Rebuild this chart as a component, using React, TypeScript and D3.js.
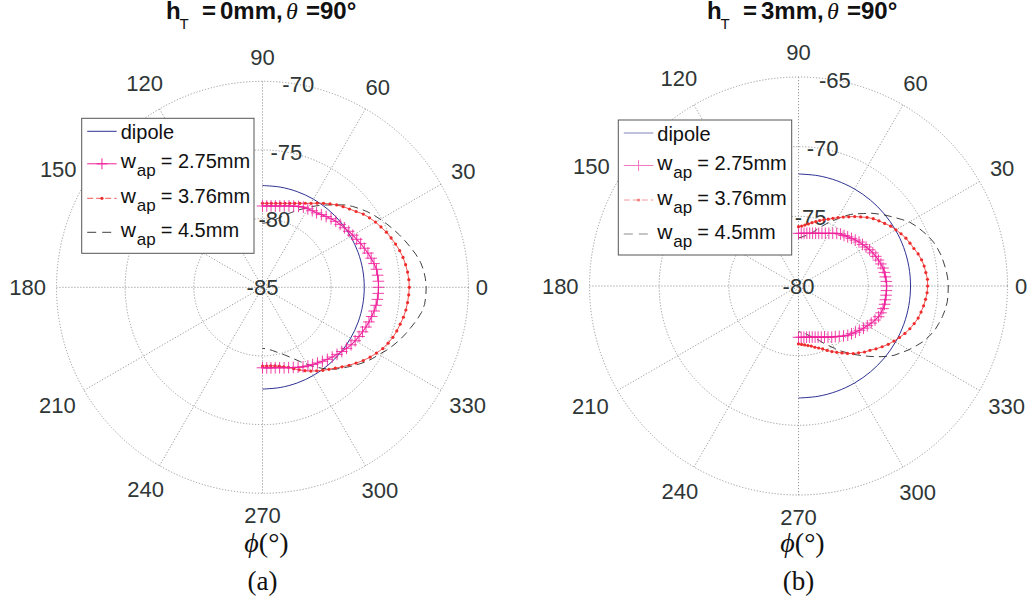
import React from 'react';
import * as d3 from 'd3';

// ---------- data ----------
const PHI = d3.range(90, -91, -3); // azimuth samples (deg), 61 points
const PHI_DIPOLE = d3.range(90, -91, -10); // 19 points
const ANGLE_TICKS = [0, 30, 60, 90, 120, 150, 180, 210, 240, 270, 300, 330];
const RING_TICKS_A = [-85, -80, -75, -70];
const RING_TICKS_B = [-80, -75, -70, -65];

const DIPOLE_A = [-77.59, -77.59, -77.59, -77.59, -77.59, -77.59, -77.59, -77.59, -77.59, -77.59,
  -77.59, -77.59, -77.59, -77.59, -77.59, -77.59, -77.59, -77.59, -77.59];
const W275_A = [
  -79.08, -79.07, -79.04, -79.01, -78.95, -78.87, -78.77, -78.67, -78.55, -78.45,
  -78.40, -78.35, -78.30, -78.19, -78.07, -77.94, -77.82, -77.72, -77.63, -77.51,
  -77.41, -77.30, -77.18, -77.06, -76.93, -76.81, -76.70, -76.60, -76.57, -76.55,
  -76.55,
  -76.56, -76.59, -76.63, -76.69, -76.77, -76.85, -76.93, -77.03, -77.11, -77.21,
  -77.31, -77.44, -77.57, -77.70, -77.82, -77.94, -78.07, -78.19, -78.30, -78.39,
  -78.50, -78.63, -78.75, -78.85, -78.93, -79.01, -79.07, -79.10, -79.12, -79.14];
const W376_A = [
  -78.88, -78.88, -78.85, -78.81, -78.75, -78.67, -78.57, -78.45, -78.31, -78.13,
  -77.94, -77.70, -77.44, -77.19, -76.93, -76.70, -76.48, -76.23, -75.93, -75.71,
  -75.50, -75.32, -75.13, -74.97, -74.81, -74.66, -74.54, -74.45, -74.38, -74.33,
  -74.31,
  -74.34, -74.38, -74.43, -74.51, -74.62, -74.72, -74.83, -74.99, -75.17, -75.42,
  -75.66, -75.93, -76.23, -76.52, -76.81, -77.08, -77.31, -77.53, -77.75, -77.96,
  -78.19, -78.42, -78.65, -78.87, -79.01, -79.13, -79.20, -79.25, -79.26, -79.27];
const W45_A = [
  -80.34, -80.30, -80.23, -80.08, -79.90, -79.68, -79.44, -79.17, -78.88, -78.59,
  -78.26, -77.94, -77.61, -77.28, -76.92, -76.52, -76.19, -75.90, -75.61, -75.34,
  -75.10, -74.84, -74.59, -74.33, -74.08, -73.82, -73.57, -73.35, -73.20, -73.12,
  -73.08,
  -73.09, -73.13, -73.28, -73.52, -73.79, -74.04, -74.30, -74.59, -74.88, -75.21,
  -75.46, -75.75, -76.07, -76.39, -76.70, -76.99, -77.32, -77.72, -78.12, -78.52,
  -78.92, -79.28, -79.58, -79.83, -80.03, -80.19, -80.34, -80.45, -80.52, -80.56];

const DIPOLE_B = [-71.96, -71.96, -71.96, -71.96, -71.96, -71.96, -71.96, -71.96, -71.96, -71.96,
  -71.96, -71.96, -71.96, -71.96, -71.96, -71.96, -71.96, -71.96, -71.96];
const W275_B = [
  -76.22, -76.21, -76.20, -76.17, -76.13, -76.08, -76.02, -75.95, -75.86, -75.76,
  -75.64, -75.49, -75.33, -75.20, -75.12, -75.01, -74.89, -74.76, -74.63, -74.52,
  -74.40, -74.27, -74.16, -74.06, -73.97, -73.88, -73.80, -73.76, -73.73, -73.69,
  -73.67,
  -73.68, -73.68, -73.69, -73.69, -73.72, -73.77, -73.84, -73.99, -74.14, -74.30,
  -74.44, -74.60, -74.74, -74.88, -75.00, -75.17, -75.35, -75.51, -75.62, -75.77,
  -75.89, -75.98, -76.07, -76.14, -76.20, -76.25, -76.28, -76.30, -76.32, -76.32];
const W376_B = [
  -75.74, -75.69, -75.60, -75.49, -75.35, -75.21, -75.06, -74.90, -74.75, -74.55,
  -74.33, -74.10, -73.86, -73.59, -73.33, -73.04, -72.78, -72.57, -72.36, -72.11,
  -71.93, -71.74, -71.56, -71.43, -71.29, -71.11, -70.97, -70.87, -70.81, -70.73,
  -70.73,
  -70.76, -70.83, -70.91, -71.01, -71.11, -71.27, -71.44, -71.64, -71.86, -72.09,
  -72.32, -72.58, -72.84, -73.10, -73.30, -73.55, -73.76, -74.02, -74.27, -74.50,
  -74.72, -74.94, -75.16, -75.32, -75.45, -75.59, -75.67, -75.75, -75.80, -75.84];
const W45_B = [
  -76.56, -76.50, -76.41, -76.32, -76.20, -76.02, -75.73, -75.44, -75.12, -74.80,
  -74.44, -74.04, -73.65, -73.33, -73.00, -72.61, -72.28, -71.93, -71.59, -71.21,
  -70.81, -70.53, -70.28, -70.02, -69.81, -69.66, -69.52, -69.44, -69.34, -69.28,
  -69.25,
  -69.25, -69.26, -69.33, -69.44, -69.58, -69.72, -69.95, -70.20, -70.53, -70.85,
  -71.21, -71.53, -71.96, -72.41, -72.86, -73.29, -73.68, -74.08, -74.44, -74.83,
  -75.19, -75.49, -75.80, -76.02, -76.20, -76.37, -76.50, -76.61, -76.68, -76.72];

const LEGEND_LABELS = ['2.75mm', '3.76mm', '4.5mm'];

// ---------- styles ----------
const SANS = "'Liberation Sans', Arial, Helvetica, sans-serif";
const SERIF = "'Liberation Serif', 'Times New Roman', serif";
const C_DIPOLE = '#2e3192';
const C_275 = '#f0219b';
const C_376 = '#ee2c2c';
const C_45 = '#2a2a2a';
const C_GRID = '#8f8f8f';
const C_TICK = '#2f3636';
// radial placement of angle labels (fraction of outer radius)
const LABEL_RF: Record<number, number> = {
  0: 1.065, 30: 1.125, 60: 1.12, 90: 1.115, 120: 1.145, 150: 1.145,
  180: 1.14, 210: 1.15, 240: 1.135, 270: 1.11, 300: 1.14, 330: 1.15,
};

const rad = (deg: number) => (deg * Math.PI) / 180;
const pt = (phi: number, r: number) => d3.pointRadial(rad(90 - phi), r);

type PanelProps = {
  cx: number; cy: number; R: number; ringTicks: number[];
  dipole: number[]; w275: number[]; w376: number[]; w45: number[];
  legend: { x: number; y: number; w: number; h: number; fade: number };
  title: string; titleX: number; caption: string;
};

function Panel(p: PanelProps) {
  const r = d3.scaleLinear().domain([p.ringTicks[0], p.ringTicks[p.ringTicks.length - 1]]).range([0, p.R]);
  const lineOf = (angles: number[], curve?: d3.CurveFactory) => {
    const l = d3.lineRadial<number>()
      .angle((_, i) => rad(90 - angles[i]))
      .radius((v) => r(v));
    if (curve) l.curve(curve);
    return l;
  };
  const spokes = [0, 30, 60, 90, 120, 150];
  const lx = p.legend.x, ly = p.legend.y;
  const lineY = [13, 45.5, 80, 114];
  const baseY = [21, 50, 84.5, 119];
  const sx1 = lx + 5.5, sx2 = lx + 35, tx = lx + 39;
  const mid = (sx1 + sx2) / 2;
  const plus = (x: number, y: number, s: number) => `M${x - s},${y}H${x + s}M${x},${y - s}V${y + s}`;
  const t0 = p.titleX;

  return (
    <g>
      <g transform={`translate(${p.cx},${p.cy})`}>
        {/* grid */}
        {p.ringTicks.slice(1).map((t) => (
          <circle key={t} r={r(t)} fill="none" stroke={C_GRID} strokeWidth={0.9} strokeDasharray="1.2,1.8" />
        ))}
        {spokes.map((a) => {
          const [x1, y1] = pt(a, p.R);
          const [x2, y2] = pt(a + 180, p.R);
          return <line key={a} x1={x1} y1={y1} x2={x2} y2={y2} stroke={C_GRID} strokeWidth={0.9} strokeDasharray="1.2,1.8" />;
        })}
        {/* angle labels */}
        {ANGLE_TICKS.map((a) => {
          const [x, y] = pt(a, p.R * LABEL_RF[a]);
          return (
            <text key={a} x={x} y={y} textAnchor="middle" dominantBaseline="central"
              fontFamily={SANS} fontSize={22} fill={C_TICK}>{a}</text>
          );
        })}
        {/* ring labels */}
        {p.ringTicks.map((t) => {
          const [x, y] = pt(80, r(t));
          return (
            <text key={t} x={x} y={y} textAnchor="middle" dominantBaseline="central"
              fontFamily={SANS} fontSize={22} fill={C_TICK}>{t}</text>
          );
        })}
        {/* series */}
        <path d={lineOf(PHI_DIPOLE, d3.curveCardinal)(p.dipole) || ''} fill="none" stroke={C_DIPOLE} strokeWidth={1} />
        <path d={lineOf(PHI)(p.w45) || ''} fill="none" stroke={C_45} strokeWidth={0.9} strokeDasharray="8,5" />
        <path d={lineOf(PHI)(p.w376) || ''} fill="none" stroke={C_376} strokeWidth={0.8} />
        {p.w376.map((v, i) => {
          const [x, y] = pt(PHI[i], r(v));
          return <circle key={i} cx={x} cy={y} r={1.6} fill={C_376} />;
        })}
        <path d={lineOf(PHI)(p.w275) || ''} fill="none" stroke={C_275} strokeWidth={1.1} />
        {p.w275.map((v, i) => {
          const [x, y] = pt(PHI[i], r(v));
          return <path key={i} d={plus(x, y, 5.8)} stroke={C_275} strokeWidth={1} opacity={0.85} />;
        })}
      </g>

      {/* legend */}
      <rect x={lx} y={ly} width={p.legend.w} height={p.legend.h} fill="#fff" stroke="#555" strokeWidth={1} />
      <g opacity={p.legend.fade}>
        <line x1={sx1} x2={sx2} y1={ly + lineY[0]} y2={ly + lineY[0]} stroke={C_DIPOLE} strokeWidth={1} />
        <line x1={sx1} x2={sx2} y1={ly + lineY[1]} y2={ly + lineY[1]} stroke={C_275} strokeWidth={1} />
        <path d={plus(mid, ly + lineY[1], 5.5)} stroke={C_275} strokeWidth={1} />
        <line x1={sx1} x2={sx2} y1={ly + lineY[2]} y2={ly + lineY[2]} stroke={C_376} strokeWidth={0.8} strokeDasharray="6,3" />
        <circle cx={mid} cy={ly + lineY[2]} r={1.6} fill={C_376} />
        <line x1={sx1} x2={sx2} y1={ly + lineY[3]} y2={ly + lineY[3]} stroke={C_45} strokeWidth={0.9} strokeDasharray="9,6" />
      </g>
      <text x={tx} y={ly + baseY[0]} fontFamily={SANS} fontSize={20} fill="#111">dipole</text>
      {LEGEND_LABELS.map((lab, i) => (
        <g key={lab}>
          <text x={tx} y={ly + baseY[i + 1]} fontFamily={SANS} fontSize={21} fill="#111">w</text>
          <text x={tx + 16} y={ly + baseY[i + 1] + 8} fontFamily={SANS} fontSize={17} fill="#111">ap</text>
          <text x={tx + 40} y={ly + baseY[i + 1]} fontFamily={SANS} fontSize={20} fill="#111">{`= ${lab}`}</text>
        </g>
      ))}

      {/* title */}
      <g fontFamily={SANS} fill="#111">
        <text x={t0} y={18.5} fontSize={24} fontWeight="bold">h</text>
        <text x={t0 + 13.5} y={28.5} fontSize={15}>T</text>
        <text x={t0 + 36} y={18.5} fontSize={24} fontWeight="bold">=</text>
        <text x={t0 + 54} y={18.5} fontSize={24} fontWeight="bold">{`${p.title},`}</text>
        <text x={t0 + 120} y={18.5} fontSize={24} fontStyle="italic" fontFamily={SERIF}>θ</text>
        <text x={t0 + 140} y={18.5} fontSize={24} fontWeight="bold">=90°</text>
      </g>

      {/* axis label + caption */}
      <text x={p.cx + 4} y={552} textAnchor="middle" fontFamily={SERIF} fontSize={28} fill="#111">
        <tspan fontStyle="italic">ϕ</tspan>(°)
      </text>
      <text x={p.cx} y={590} textAnchor="middle" fontFamily={SERIF} fontSize={27} fill="#111">{p.caption}</text>
    </g>
  );
}

export default function App() {
  return (
    <svg width={1029} height={604} style={{ position: 'absolute', left: 0, top: 0, background: '#fff' }}>
      <rect width={1029} height={604} fill="#fff" />
      <Panel cx={262.5} cy={287.3} R={206} ringTicks={RING_TICKS_A}
        dipole={DIPOLE_A} w275={W275_A} w376={W376_A} w45={W45_A}
        legend={{ x: 81.7, y: 118.3, w: 172.3, h: 135, fade: 1 }}
        title="0mm" titleX={166} caption="(a)" />
      <Panel cx={798.5} cy={286} R={209} ringTicks={RING_TICKS_B}
        dipole={DIPOLE_B} w275={W275_B} w376={W376_B} w45={W45_B}
        legend={{ x: 618.3, y: 120, w: 173.4, h: 135, fade: 0.6 }}
        title="3mm" titleX={707} caption="(b)" />
    </svg>
  );
}
